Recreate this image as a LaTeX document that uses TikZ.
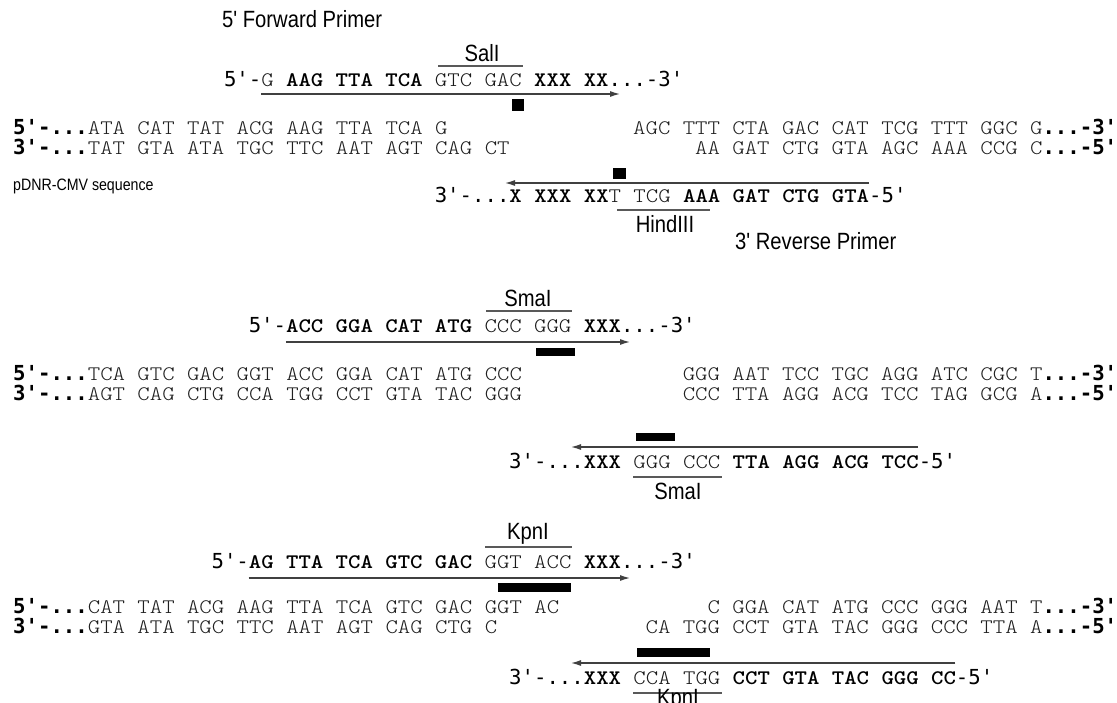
\documentclass[tikz,border=0pt]{standalone}
\usepackage{fontspec}
\usetikzlibrary{arrows.meta}
\newfontfamily\cmono[FakeStretch=1.143]{Latin Modern Mono Light}
\newfontfamily\dmono{DejaVu Sans Mono}
\newfontfamily\labfont[FakeStretch=0.86]{Liberation Sans}
\newcommand\EndB[1]{{\color{black}\dmono\bfseries #1}}
\newcommand\EndR[1]{{\color{black}\dmono #1}}
\newcommand\PrimB[1]{{\color{black}\bfseries #1}}
\newcommand\PrimR[1]{{\color{black!90}\mdseries #1}}
\tikzset{
  seq/.style={anchor=base west, inner sep=0pt, font=\fontsize{20.67}{24}\cmono, text=black!88},
  lab/.style={anchor=base, inner sep=0pt, font=\fontsize{23.5}{28}\labfont, text=black},
  fwd/.style={draw=black!75, line width=1.2pt, -{Latex[length=10pt,width=6pt]}},
  rule/.style={draw=black!65, line width=1.2pt},
  blk/.style={fill=black, draw=none}
}
\begin{document}
\begin{tikzpicture}[x=1pt,y=-1pt]
\useasboundingbox (0,0) rectangle (1117,702);
\fill[white] (0,0) rectangle (1117,702);

% ---------------- Section 1: SalI / HindIII ----------------
\node[lab, anchor=base west] (fwdlab) at (222,27) {5' Forward Primer};
\node[lab] (sal) at (482,61) {SalI};
\draw[rule] (438,66) -- (523,66);
\node[seq] (p1) at (223.8,86) {\EndR{5'-}\PrimR{G}\PrimB{ AAG TTA TCA }\PrimR{GTC GAC}\PrimB{ XXX XX}\EndR{...-3'}};
\coordinate (a1s) at (261,94);
\coordinate (a1e) at (620,94);
\draw[fwd] (a1s) -- (a1e);
\fill[blk] (512,99) rectangle (524,111);

\node[seq] (t1a) at (13,134) {\EndB{5'-...}ATA CAT TAT ACG AAG TTA TCA G};
\node[seq] (t1b) at (633,134) {AGC TTT CTA GAC CAT TCG TTT GGC G\EndB{...-3'}};
\node[seq] (b1a) at (13,154) {\EndB{3'-...}TAT GTA ATA TGC TTC AAT AGT CAG CT};
\node[seq] (b1b) at (695,154) {AA GAT CTG GTA AGC AAA CCG C\EndB{...-5'}};

\node[anchor=west, inner sep=0pt, font=\fontsize{16.5}{20}\labfont] (pdnr) at (13,186) {pDNR-CMV sequence};

\fill[blk] (613,168) rectangle (626,179);
\coordinate (r1s) at (868.6,183);
\coordinate (r1e) at (505,183);
\draw[fwd] (r1s) -- (r1e);
\node[seq] (r1) at (434.6,202) {\EndR{3'-...}\PrimB{X XXX XX}\PrimR{T TCG}\PrimB{ AAA GAT CTG GTA}\EndR{-5'}};
\draw[rule] (617,210) -- (710,210);
\node[lab] (hind) at (665,232) {HindIII};
\node[lab, anchor=base west] (revlab) at (735,249) {3' Reverse Primer};

% ---------------- Section 2: SmaI ----------------
\node[lab] (sma1) at (528,306) {SmaI};
\draw[rule] (486,311) -- (572,311);
\node[seq] (p2) at (248.6,332) {\EndR{5'-}\PrimB{ACC GGA CAT ATG }\PrimR{CCC GGG}\PrimB{ XXX}\EndR{...-3'}};
\coordinate (a2s) at (285.8,342);
\coordinate (a2e) at (630,342);
\draw[fwd] (a2s) -- (a2e);
\fill[blk] (536,348) rectangle (575,356);

\node[seq] (t2a) at (13,380) {\EndB{5'-...}TCA GTC GAC GGT ACC GGA CAT ATG CCC};
\node[seq] (t2b) at (682.6,380) {GGG AAT TCC TGC AGG ATC CGC T\EndB{...-3'}};
\node[seq] (b2a) at (13,400) {\EndB{3'-...}AGT CAG CTG CCA TGG CCT GTA TAC GGG};
\node[seq] (b2b) at (682.6,400) {CCC TTA AGG ACG TCC TAG GCG A\EndB{...-5'}};

\fill[blk] (636,433) rectangle (675,441);
\coordinate (r2s) at (918.2,447);
\coordinate (r2e) at (571,447);
\draw[fwd] (r2s) -- (r2e);
\node[seq] (r2) at (509,468) {\EndR{3'-...}\PrimB{XXX }\PrimR{GGG CCC}\PrimB{ TTA AGG ACG TCC}\EndR{-5'}};
\draw[rule] (633,477) -- (722,477);
\node[lab] (sma2) at (678,499) {SmaI};

% ---------------- Section 3: KpnI ----------------
\node[lab] (kpn1) at (528,539) {KpnI};
\draw[rule] (485,547) -- (572,547);
\node[seq] (p3) at (211.4,568) {\EndR{5'-}\PrimB{AG TTA TCA GTC GAC }\PrimR{GGT ACC}\PrimB{ XXX}\EndR{...-3'}};
\coordinate (a3s) at (248.6,578);
\coordinate (a3e) at (630,578);
\draw[fwd] (a3s) -- (a3e);
\fill[blk] (498,583) rectangle (571,592);

\node[seq] (t3a) at (13,613) {\EndB{5'-...}CAT TAT ACG AAG TTA TCA GTC GAC GGT AC};
\node[seq] (t3b) at (707.4,613) {C GGA CAT ATG CCC GGG AAT T\EndB{...-3'}};
\node[seq] (b3a) at (13,633) {\EndB{3'-...}GTA ATA TGC TTC AAT AGT CAG CTG C};
\node[seq] (b3b) at (645.4,633) {CA TGG CCT GTA TAC GGG CCC TTA A\EndB{...-5'}};

\fill[blk] (637,648) rectangle (710,657);
\coordinate (r3s) at (955.4,663);
\coordinate (r3e) at (571,663);
\draw[fwd] (r3s) -- (r3e);
\node[seq] (r3) at (509,684) {\EndR{3'-...}\PrimB{XXX }\PrimR{CCA TGG}\PrimB{ CCT GTA TAC GGG CC}\EndR{-5'}};
\draw[rule] (633,693) -- (722,693);
\node[lab] (kpn2) at (678,705) {KpnI};
\end{tikzpicture}
\end{document}
